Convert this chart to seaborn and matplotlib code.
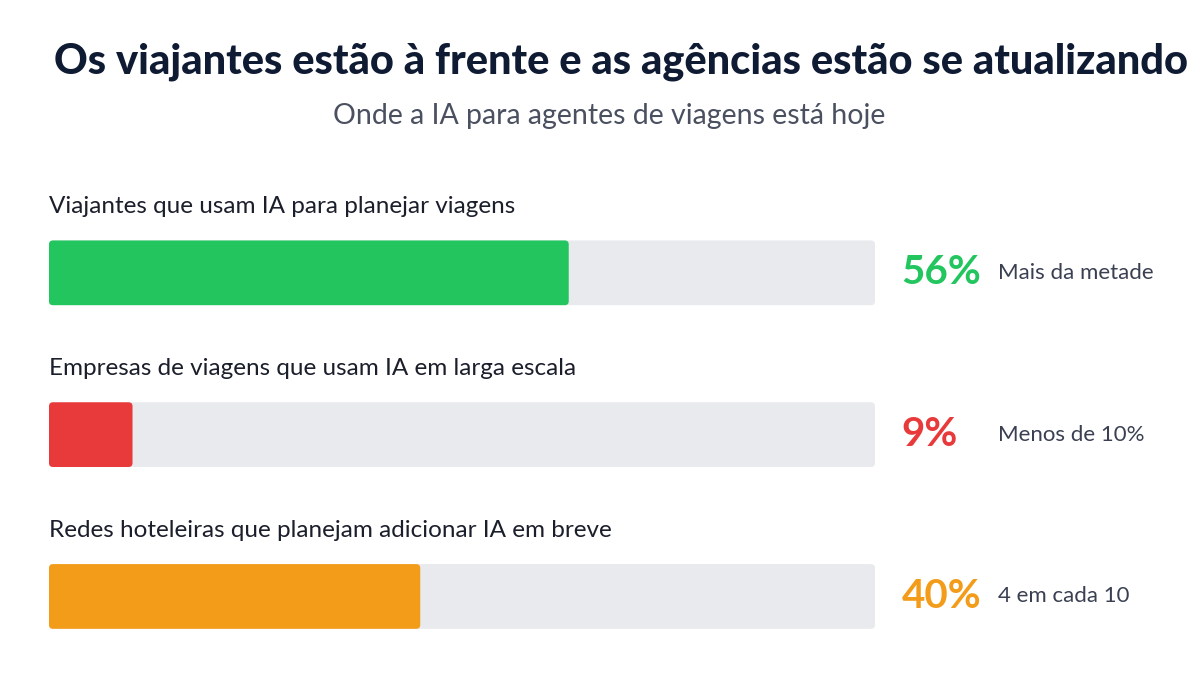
import pandas as pd
import seaborn as sns
import matplotlib.pyplot as plt
from matplotlib.patches import FancyBboxPatch

# Chart data
categories = [
    "Viajantes que usam IA para planejar viagens",
    "Empresas de viagens que usam IA em larga escala",
    "Redes hoteleiras que planejam adicionar IA em breve",
]
values = [56, 9, 40]
value_labels = ["56%", "9%", "40%"]
notes = ["Mais da metade", "Menos de 10%", "4 em cada 10"]
colors = ["#22C55E", "#E83A3A", "#F39C1A"]
track_full = 89  # grey track length as drawn in the reference

title = "Os viajantes estão à frente e as agências estão se atualizando"
subtitle = "Onde a IA para agentes de viagens está hoje"

df = pd.DataFrame({"category": categories, "value": values})
df["track"] = track_full

sns.set_style("white")
plt.rcParams["font.family"] = ["Lato", "DejaVu Sans"]

fig = plt.figure(figsize=(12, 6.75), dpi=100)
fig.patch.set_facecolor("white")

# axes placed where the bars sit (pixel layout of the reference)
ax = fig.add_axes([49 / 1200, 1 - 645 / 675, 826 / 1200, 445 / 675])

bar_w = 0.40
sns.barplot(data=df, x="track", y="category", color="#E9EAED",
            width=bar_w, ax=ax, orient="h", saturation=1)
sns.barplot(data=df, x="value", y="category", hue="category",
            palette=dict(zip(categories, colors)), width=bar_w,
            ax=ax, orient="h", legend=False, saturation=1)

ax.set_xlim(0, track_full)
ax.set_ylim(2.3, -0.45)
ax.axis("off")

# give the bars slightly rounded corners
px_x = 826 / track_full   # pixels per x unit
px_y = 445 / 2.75         # pixels per y unit
for p in list(ax.patches):
    x, y = p.get_x(), p.get_y()
    w, h = p.get_width(), p.get_height()
    if w <= 0:
        continue
    r = 4 / px_x
    fb = FancyBboxPatch((x, y), w, h,
                        boxstyle=f"round,pad=0,rounding_size={r}",
                        mutation_aspect=px_x / px_y,
                        facecolor=p.get_facecolor(), edgecolor="none",
                        zorder=p.get_zorder())
    p.remove()
    ax.add_patch(fb)

for i, cat in enumerate(categories):
    # category label above the bar
    ax.text(0, i - 0.41, cat, fontsize=17.5, color="#1B1E2B",
            va="center", ha="left")
    # big coloured percentage
    ax.text(track_full * 1.032, i, value_labels[i], fontsize=29,
            fontweight="bold", color=colors[i], va="center", ha="left")
    ax.text(track_full * 1.149, i, notes[i], fontsize=16, color="#3A4052",
            va="center", ha="left")

fig.text(0.5175, 1 - 62 / 675, title, fontsize=30, fontweight="black",
         color="#0F1A33", ha="center", va="center")
fig.text(0.508, 1 - 116 / 675, subtitle, fontsize=20.5, color="#4A5060",
         ha="center", va="center")

fig.savefig("out.png", dpi=100, facecolor="white")
